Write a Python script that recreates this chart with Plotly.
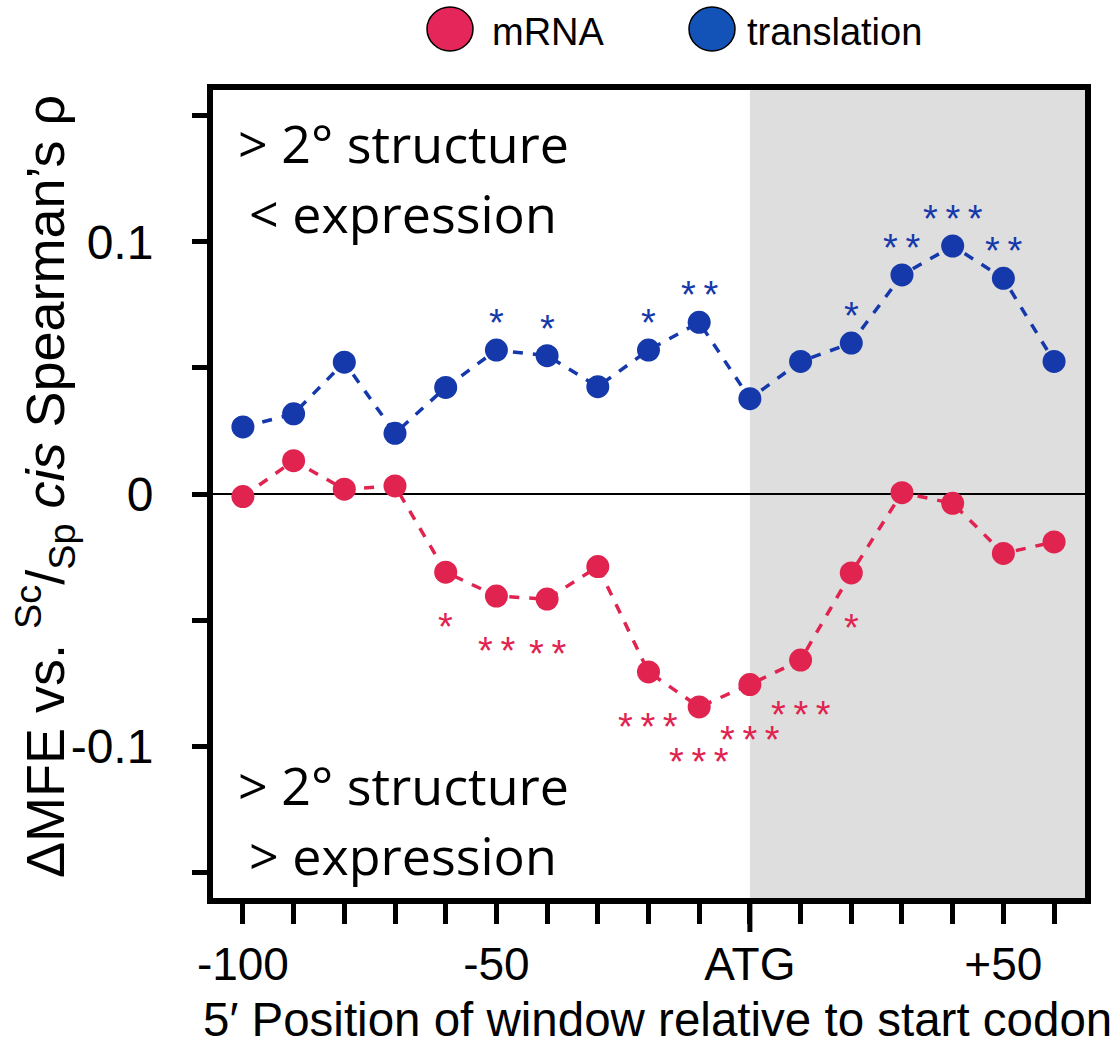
import plotly.graph_objects as go

# Window start position relative to the start codon (nt)
positions = [-100, -90, -80, -70, -60, -50, -40, -30, -20, -10, 0, 10, 20, 30, 40, 50, 60]

# Spearman's rho between window dMFE and Sc/Sp cis divergence
mrna_rho = [-0.001, 0.0132, 0.0019, 0.0032, -0.031, -0.0405, -0.0417, -0.0288, -0.0706,
            -0.0845, -0.0756, -0.0659, -0.0313, 0.0005, -0.0037, -0.0236, -0.019]
translation_rho = [0.0266, 0.0318, 0.0523, 0.0241, 0.0423, 0.0571, 0.0549, 0.0426, 0.0571,
                   0.0681, 0.0378, 0.0526, 0.0599, 0.0869, 0.0984, 0.0856, 0.0526]

# Significance marks per window
mrna_sig = ["", "", "", "", "*", "**", "**", "", "***", "***", "***", "***", "*", "", "", "", ""]
translation_sig = ["", "", "", "", "", "*", "*", "", "*", "**", "", "", "*", "**", "***", "**", ""]

series_names = ["mRNA", "translation"]

x_tick_vals = [-100, -50, 0, 50]
x_tick_text = ["-100", "-50", "ATG", "+50"]
y_tick_vals = [-0.1, 0, 0.1]
y_tick_text = ["-0.1", "0", "0.1"]

RED = "#E0234F"
BLUE = "#1539AB"
LEG_RED = "#E4265A"
LEG_BLUE = "#1352B6"

# plot-area geometry in pixels
W, H = 1114, 1048
L, R, T, B = 213, 29, 90, 150
PW, PH = W - L - R, H - T - B


def px(xp):
    return (xp - L) / PW


def py(yp):
    return (H - B - yp) / PH


fig = go.Figure()

for name, vals, col in [(series_names[0], mrna_rho, RED), (series_names[1], translation_rho, BLUE)]:
    fig.add_trace(go.Scatter(
        x=positions, y=vals, name=name, mode="lines+markers",
        line=dict(color=col, width=3.5, dash="10px,10px"),
        marker=dict(color=col, size=23),
        showlegend=False,
    ))

annotations = []
star_font = "Liberation Sans, Arial, sans-serif"
for xv, yv, s in zip(positions, translation_rho, translation_sig):
    if s:
        annotations.append(dict(x=xv, y=yv, xref="x", yref="y", text="\u2009".join(s),
                                showarrow=False, yshift=27,
                                font=dict(family=star_font, size=38, color=BLUE)))
for xv, yv, s in zip(positions, mrna_rho, mrna_sig):
    if s:
        annotations.append(dict(x=xv, y=yv, xref="x", yref="y", text="\u2009".join(s),
                                showarrow=False, yshift=-55,
                                font=dict(family=star_font, size=38, color=RED)))

# region labels inside the panel
label_font = dict(family="Open Sans, Noto Sans, sans-serif", size=52, color="black")
for text, xp, yp in [("&gt; 2° structure", 236, 143), ("&lt; expression", 247, 212),
                     ("&gt; 2° structure", 236, 784), ("&gt; expression", 247, 854)]:
    annotations.append(dict(x=px(xp), y=py(yp), xref="paper", yref="paper", text=text,
                            xanchor="left", yanchor="middle", showarrow=False, font=label_font))

# axis titles
annotations.append(dict(
    x=px(45), y=py(487), xref="paper", yref="paper", textangle=-90,
    text="ΔMFE vs. <sup>Sc</sup>/<sub>Sp</sub> <i>cis</i> Spearman’s ρ",
    showarrow=False, xanchor="center", yanchor="middle",
    font=dict(family="Liberation Sans, Arial, sans-serif", size=54, color="black")))
annotations.append(dict(
    x=px(657), y=py(1020), xref="paper", yref="paper",
    text="5′ Position of window relative to start codon",
    showarrow=False, xanchor="center", yanchor="middle",
    font=dict(family="Liberation Sans, Arial, sans-serif", size=47.5, color="black")))

# legend entries
leg_font = dict(family="Liberation Sans, Arial, sans-serif", size=38, color="black")
shapes = [
    dict(type="rect", xref="x", yref="paper", x0=0, x1=200, y0=0, y1=1,
         fillcolor="#DEDEDE", line=dict(width=0), layer="below"),
    # longer tick marking the start codon
    dict(type="line", xref="x", yref="paper", x0=0, x1=0, ysizemode="pixel", yanchor=0,
         y0=-2, y1=-34, line=dict(color="black", width=5)),
]
for (name, cx, tx, col) in [(series_names[0], 450, 490, LEG_RED), (series_names[1], 712, 745, LEG_BLUE)]:
    shapes.append(dict(type="circle", xref="paper", yref="paper",
                       xsizemode="pixel", ysizemode="pixel",
                       xanchor=px(cx), yanchor=py(29), x0=-23, x1=23, y0=-22, y1=22,
                       fillcolor=col, line=dict(color="black", width=1.5)))
    annotations.append(dict(x=px(tx), y=py(32), xref="paper", yref="paper", text=name,
                            xanchor="left", yanchor="middle", showarrow=False, font=leg_font))

fig.update_layout(
    width=W, height=H,
    margin=dict(l=L, r=R, t=T, b=B),
    paper_bgcolor="white", plot_bgcolor="white",
    shapes=shapes, annotations=annotations,
    showlegend=False,
)

fig.update_xaxes(
    range=[-105.9, 66.1], showgrid=False, zeroline=False,
    showline=True, linecolor="black", linewidth=6, mirror=True,
    ticks="outside", ticklen=20, tickwidth=5, tickcolor="black",
    tickvals=x_tick_vals, ticktext=x_tick_text,
    minor=dict(ticks="outside", ticklen=20, tickwidth=5, tickcolor="black",
               tick0=0, dtick=10, showgrid=False),
    tickfont=dict(family="Liberation Sans, Arial, sans-serif", size=46, color="black"),
    ticklabelstandoff=1,
)
fig.update_yaxes(
    range=[-0.1603, 0.1603], showgrid=False,
    zeroline=True, zerolinecolor="black", zerolinewidth=1.5,
    showline=True, linecolor="black", linewidth=6, mirror=True,
    ticks="outside", ticklen=15, tickwidth=5, tickcolor="black",
    tickvals=y_tick_vals, ticktext=y_tick_text,
    minor=dict(ticks="outside", ticklen=15, tickwidth=5, tickcolor="black",
               tick0=0, dtick=0.05, showgrid=False),
    tickfont=dict(family="Liberation Sans, Arial, sans-serif", size=48, color="black"),
    ticklabelstandoff=29,
)

fig.write_html("out.html")
